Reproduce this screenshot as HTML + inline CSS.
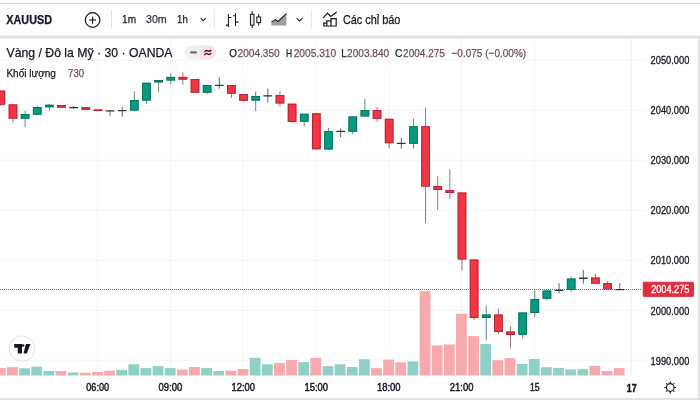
<!DOCTYPE html>
<html><head><meta charset="utf-8"><style>
html,body{margin:0;padding:0;width:700px;height:400px;overflow:hidden;background:#fff;}
svg{display:block;position:absolute;left:0;top:0;will-change:transform;filter:blur(0.3px);}
text{font-family:"Liberation Sans",sans-serif;stroke-width:0.25px;}
.ax text{stroke-width:0.45px;}
.ax2 text{stroke-width:0.3px;}
</style></head><body>
<svg width="700" height="400" viewBox="0 0 700 400">
<rect x="0" y="0" width="700" height="3" fill="#fafafa"/>
<rect x="0" y="2.8" width="700" height="1.3" fill="#d9d9d9"/>
<!-- chart -->
<rect x="0" y="59.7" width="645" height="1" fill="#f3f4f6"/>
<rect x="0" y="109.9" width="645" height="1" fill="#f3f4f6"/>
<rect x="0" y="159.8" width="645" height="1" fill="#f3f4f6"/>
<rect x="0" y="209.9" width="645" height="1" fill="#f3f4f6"/>
<rect x="0" y="260.0" width="645" height="1" fill="#f3f4f6"/>
<rect x="0" y="310.0" width="645" height="1" fill="#f3f4f6"/>
<rect x="0" y="359.7" width="645" height="1" fill="#f3f4f6"/>
<rect x="97.0" y="38" width="1" height="338" fill="#f3f4f6"/>
<rect x="169.9" y="38" width="1" height="338" fill="#f3f4f6"/>
<rect x="242.8" y="38" width="1" height="338" fill="#f3f4f6"/>
<rect x="315.7" y="38" width="1" height="338" fill="#f3f4f6"/>
<rect x="388.3" y="38" width="1" height="338" fill="#f3f4f6"/>
<rect x="461.0" y="38" width="1" height="338" fill="#f3f4f6"/>
<rect x="534.1" y="38" width="1" height="338" fill="#f3f4f6"/>
<rect x="-5.10" y="368.00" width="10.8" height="7.50" fill="#f7a9ae"/>
<rect x="7.04" y="367.20" width="10.8" height="8.30" fill="#f7a9ae"/>
<rect x="19.17" y="368.30" width="10.8" height="7.20" fill="#8fd1c6"/>
<rect x="31.30" y="366.70" width="10.8" height="8.80" fill="#8fd1c6"/>
<rect x="43.44" y="371.00" width="10.8" height="4.50" fill="#8fd1c6"/>
<rect x="55.57" y="371.00" width="10.8" height="4.50" fill="#f7a9ae"/>
<rect x="67.71" y="372.40" width="10.8" height="3.10" fill="#8fd1c6"/>
<rect x="79.84" y="372.70" width="10.8" height="2.80" fill="#f7a9ae"/>
<rect x="91.98" y="371.90" width="10.8" height="3.60" fill="#f7a9ae"/>
<rect x="104.11" y="370.70" width="10.8" height="4.80" fill="#f7a9ae"/>
<rect x="116.25" y="369.90" width="10.8" height="5.60" fill="#8fd1c6"/>
<rect x="128.38" y="364.20" width="10.8" height="11.30" fill="#8fd1c6"/>
<rect x="140.52" y="368.10" width="10.8" height="7.40" fill="#8fd1c6"/>
<rect x="152.66" y="366.10" width="10.8" height="9.40" fill="#8fd1c6"/>
<rect x="164.79" y="368.10" width="10.8" height="7.40" fill="#8fd1c6"/>
<rect x="176.93" y="369.60" width="10.8" height="5.90" fill="#f7a9ae"/>
<rect x="189.06" y="367.00" width="10.8" height="8.50" fill="#f7a9ae"/>
<rect x="201.19" y="368.10" width="10.8" height="7.40" fill="#8fd1c6"/>
<rect x="213.33" y="371.00" width="10.8" height="4.50" fill="#8fd1c6"/>
<rect x="225.47" y="370.70" width="10.8" height="4.80" fill="#f7a9ae"/>
<rect x="237.60" y="369.00" width="10.8" height="6.50" fill="#f7a9ae"/>
<rect x="249.74" y="357.80" width="10.8" height="17.70" fill="#8fd1c6"/>
<rect x="261.87" y="364.20" width="10.8" height="11.30" fill="#8fd1c6"/>
<rect x="274.01" y="363.00" width="10.8" height="12.50" fill="#f7a9ae"/>
<rect x="286.14" y="360.10" width="10.8" height="15.40" fill="#f7a9ae"/>
<rect x="298.28" y="362.10" width="10.8" height="13.40" fill="#8fd1c6"/>
<rect x="310.41" y="357.80" width="10.8" height="17.70" fill="#f7a9ae"/>
<rect x="322.55" y="366.10" width="10.8" height="9.40" fill="#8fd1c6"/>
<rect x="334.68" y="364.20" width="10.8" height="11.30" fill="#8fd1c6"/>
<rect x="346.82" y="367.00" width="10.8" height="8.50" fill="#8fd1c6"/>
<rect x="358.95" y="359.30" width="10.8" height="16.20" fill="#8fd1c6"/>
<rect x="371.09" y="368.10" width="10.8" height="7.40" fill="#f7a9ae"/>
<rect x="383.22" y="359.60" width="10.8" height="15.90" fill="#f7a9ae"/>
<rect x="395.36" y="362.30" width="10.8" height="13.20" fill="#f7a9ae"/>
<rect x="407.49" y="361.40" width="10.8" height="14.10" fill="#8fd1c6"/>
<rect x="419.62" y="291.25" width="10.8" height="84.25" fill="#f7a9ae"/>
<rect x="431.76" y="345.50" width="10.8" height="30.00" fill="#f7a9ae"/>
<rect x="443.90" y="344.50" width="10.8" height="31.00" fill="#f7a9ae"/>
<rect x="456.03" y="313.75" width="10.8" height="61.75" fill="#f7a9ae"/>
<rect x="468.17" y="336.10" width="10.8" height="39.40" fill="#f7a9ae"/>
<rect x="480.30" y="344.00" width="10.8" height="31.50" fill="#8fd1c6"/>
<rect x="492.44" y="360.25" width="10.8" height="15.25" fill="#f7a9ae"/>
<rect x="504.57" y="358.10" width="10.8" height="17.40" fill="#f7a9ae"/>
<rect x="516.70" y="364.00" width="10.8" height="11.50" fill="#8fd1c6"/>
<rect x="528.84" y="359.00" width="10.8" height="16.50" fill="#8fd1c6"/>
<rect x="540.98" y="367.20" width="10.8" height="8.30" fill="#8fd1c6"/>
<rect x="553.11" y="367.90" width="10.8" height="7.60" fill="#8fd1c6"/>
<rect x="565.25" y="369.40" width="10.8" height="6.10" fill="#8fd1c6"/>
<rect x="577.38" y="369.20" width="10.8" height="6.30" fill="#8fd1c6"/>
<rect x="589.51" y="365.80" width="10.8" height="9.70" fill="#f7a9ae"/>
<rect x="601.65" y="371.00" width="10.8" height="4.50" fill="#f7a9ae"/>
<rect x="613.78" y="368.10" width="10.8" height="7.40" fill="#f7a9ae"/>
<line x1="0" y1="289.5" x2="642" y2="289.5" stroke="#6f727c" stroke-width="1" stroke-dasharray="1,1"/>
<rect x="0.35" y="90.60" width="1" height="15.40" fill="#9a7479"/>
<rect x="-3.50" y="90.60" width="8.7" height="14.15" fill="#f23645"/>
<rect x="-3.00" y="91.10" width="7.7" height="13.15" fill="none" stroke="#a0202e" stroke-width="1" opacity="0.75"/>
<rect x="12.48" y="104.40" width="1" height="18.10" fill="#9a7479"/>
<rect x="8.63" y="104.40" width="8.7" height="14.20" fill="#f23645"/>
<rect x="9.13" y="104.90" width="7.7" height="13.20" fill="none" stroke="#a0202e" stroke-width="1" opacity="0.75"/>
<rect x="24.62" y="110.60" width="1" height="16.30" fill="#6a8480"/>
<rect x="20.77" y="114.00" width="8.7" height="4.75" fill="#089981"/>
<rect x="21.27" y="114.50" width="7.7" height="3.75" fill="none" stroke="#086554" stroke-width="1" opacity="0.75"/>
<rect x="36.76" y="105.60" width="1" height="9.15" fill="#6a8480"/>
<rect x="32.91" y="107.00" width="8.7" height="7.75" fill="#089981"/>
<rect x="33.41" y="107.50" width="7.7" height="6.75" fill="none" stroke="#086554" stroke-width="1" opacity="0.75"/>
<rect x="48.89" y="103.75" width="1" height="6.85" fill="#6a8480"/>
<rect x="45.04" y="104.75" width="8.7" height="2.50" fill="#089981"/>
<rect x="45.54" y="105.25" width="7.7" height="1.50" fill="none" stroke="#086554" stroke-width="1" opacity="0.75"/>
<rect x="61.02" y="105.00" width="1" height="2.75" fill="#9a7479"/>
<rect x="57.17" y="105.00" width="8.7" height="2.75" fill="#f23645"/>
<rect x="57.67" y="105.50" width="7.7" height="1.75" fill="none" stroke="#a0202e" stroke-width="1" opacity="0.75"/>
<rect x="73.16" y="106.00" width="1" height="2.50" fill="#56686a"/>
<rect x="69.31" y="107.00" width="8.7" height="1.30" fill="#1f3a36"/>
<rect x="85.29" y="107.25" width="1" height="2.50" fill="#9a7479"/>
<rect x="81.44" y="107.25" width="8.7" height="2.50" fill="#f23645"/>
<rect x="81.94" y="107.75" width="7.7" height="1.50" fill="none" stroke="#a0202e" stroke-width="1" opacity="0.75"/>
<rect x="97.43" y="109.50" width="1" height="1.50" fill="#9a7479"/>
<rect x="93.58" y="109.50" width="8.7" height="1.50" fill="#f23645"/>
<rect x="94.08" y="110.00" width="7.7" height="0.50" fill="none" stroke="#a0202e" stroke-width="1" opacity="0.75"/>
<rect x="109.56" y="110.30" width="1" height="5.95" fill="#8a6a70"/>
<rect x="105.72" y="110.30" width="8.7" height="1.20" fill="#3a2a2e"/>
<rect x="121.70" y="106.90" width="1" height="9.60" fill="#56686a"/>
<rect x="117.85" y="110.00" width="8.7" height="1.20" fill="#1f3a36"/>
<rect x="133.83" y="91.25" width="1" height="19.35" fill="#6a8480"/>
<rect x="129.98" y="100.00" width="8.7" height="10.60" fill="#089981"/>
<rect x="130.48" y="100.50" width="7.7" height="9.60" fill="none" stroke="#086554" stroke-width="1" opacity="0.75"/>
<rect x="145.97" y="82.75" width="1" height="21.00" fill="#6a8480"/>
<rect x="142.12" y="82.75" width="8.7" height="17.85" fill="#089981"/>
<rect x="142.62" y="83.25" width="7.7" height="16.85" fill="none" stroke="#086554" stroke-width="1" opacity="0.75"/>
<rect x="158.10" y="80.00" width="1" height="11.90" fill="#6a8480"/>
<rect x="154.25" y="80.00" width="8.7" height="2.50" fill="#089981"/>
<rect x="154.75" y="80.50" width="7.7" height="1.50" fill="none" stroke="#086554" stroke-width="1" opacity="0.75"/>
<rect x="170.24" y="73.10" width="1" height="11.30" fill="#6a8480"/>
<rect x="166.39" y="76.90" width="8.7" height="3.70" fill="#089981"/>
<rect x="166.89" y="77.40" width="7.7" height="2.70" fill="none" stroke="#086554" stroke-width="1" opacity="0.75"/>
<rect x="182.38" y="72.50" width="1" height="12.25" fill="#9a7479"/>
<rect x="178.53" y="76.90" width="8.7" height="2.85" fill="#f23645"/>
<rect x="179.03" y="77.40" width="7.7" height="1.85" fill="none" stroke="#a0202e" stroke-width="1" opacity="0.75"/>
<rect x="194.51" y="79.00" width="1" height="13.75" fill="#9a7479"/>
<rect x="190.66" y="79.00" width="8.7" height="13.75" fill="#f23645"/>
<rect x="191.16" y="79.50" width="7.7" height="12.75" fill="none" stroke="#a0202e" stroke-width="1" opacity="0.75"/>
<rect x="206.64" y="85.00" width="1" height="9.40" fill="#6a8480"/>
<rect x="202.79" y="85.00" width="8.7" height="7.75" fill="#089981"/>
<rect x="203.29" y="85.50" width="7.7" height="6.75" fill="none" stroke="#086554" stroke-width="1" opacity="0.75"/>
<rect x="218.78" y="77.25" width="1" height="11.50" fill="#56686a"/>
<rect x="214.93" y="84.80" width="8.7" height="1.20" fill="#1f3a36"/>
<rect x="230.91" y="85.00" width="1" height="12.75" fill="#9a7479"/>
<rect x="227.06" y="85.00" width="8.7" height="8.75" fill="#f23645"/>
<rect x="227.56" y="85.50" width="7.7" height="7.75" fill="none" stroke="#a0202e" stroke-width="1" opacity="0.75"/>
<rect x="243.05" y="94.00" width="1" height="7.70" fill="#9a7479"/>
<rect x="239.20" y="94.00" width="8.7" height="6.80" fill="#f23645"/>
<rect x="239.70" y="94.50" width="7.7" height="5.80" fill="none" stroke="#a0202e" stroke-width="1" opacity="0.75"/>
<rect x="255.19" y="91.50" width="1" height="19.75" fill="#6a8480"/>
<rect x="251.34" y="96.00" width="8.7" height="4.60" fill="#089981"/>
<rect x="251.84" y="96.50" width="7.7" height="3.60" fill="none" stroke="#086554" stroke-width="1" opacity="0.75"/>
<rect x="267.32" y="88.50" width="1" height="14.00" fill="#56686a"/>
<rect x="263.47" y="95.20" width="8.7" height="1.30" fill="#1f3a36"/>
<rect x="279.46" y="91.50" width="1" height="15.00" fill="#9a7479"/>
<rect x="275.61" y="95.00" width="8.7" height="8.50" fill="#f23645"/>
<rect x="276.11" y="95.50" width="7.7" height="7.50" fill="none" stroke="#a0202e" stroke-width="1" opacity="0.75"/>
<rect x="291.59" y="103.70" width="1" height="19.00" fill="#9a7479"/>
<rect x="287.74" y="103.70" width="8.7" height="18.30" fill="#f23645"/>
<rect x="288.24" y="104.20" width="7.7" height="17.30" fill="none" stroke="#a0202e" stroke-width="1" opacity="0.75"/>
<rect x="303.73" y="113.75" width="1" height="12.75" fill="#6a8480"/>
<rect x="299.88" y="113.75" width="8.7" height="7.95" fill="#089981"/>
<rect x="300.38" y="114.25" width="7.7" height="6.95" fill="none" stroke="#086554" stroke-width="1" opacity="0.75"/>
<rect x="315.86" y="113.30" width="1" height="36.00" fill="#9a7479"/>
<rect x="312.01" y="113.30" width="8.7" height="36.00" fill="#f23645"/>
<rect x="312.51" y="113.80" width="7.7" height="35.00" fill="none" stroke="#a0202e" stroke-width="1" opacity="0.75"/>
<rect x="328.00" y="127.80" width="1" height="21.70" fill="#6a8480"/>
<rect x="324.14" y="131.00" width="8.7" height="18.50" fill="#089981"/>
<rect x="324.64" y="131.50" width="7.7" height="17.50" fill="none" stroke="#086554" stroke-width="1" opacity="0.75"/>
<rect x="340.13" y="128.30" width="1" height="8.70" fill="#56686a"/>
<rect x="336.28" y="130.80" width="8.7" height="1.20" fill="#1f3a36"/>
<rect x="352.27" y="116.40" width="1" height="17.90" fill="#6a8480"/>
<rect x="348.42" y="116.40" width="8.7" height="15.30" fill="#089981"/>
<rect x="348.92" y="116.90" width="7.7" height="14.30" fill="none" stroke="#086554" stroke-width="1" opacity="0.75"/>
<rect x="364.40" y="99.00" width="1" height="17.50" fill="#6a8480"/>
<rect x="360.55" y="110.00" width="8.7" height="6.50" fill="#089981"/>
<rect x="361.05" y="110.50" width="7.7" height="5.50" fill="none" stroke="#086554" stroke-width="1" opacity="0.75"/>
<rect x="376.54" y="106.80" width="1" height="14.70" fill="#9a7479"/>
<rect x="372.69" y="110.00" width="8.7" height="8.80" fill="#f23645"/>
<rect x="373.19" y="110.50" width="7.7" height="7.80" fill="none" stroke="#a0202e" stroke-width="1" opacity="0.75"/>
<rect x="388.67" y="118.80" width="1" height="29.70" fill="#9a7479"/>
<rect x="384.82" y="118.80" width="8.7" height="24.40" fill="#f23645"/>
<rect x="385.32" y="119.30" width="7.7" height="23.40" fill="none" stroke="#a0202e" stroke-width="1" opacity="0.75"/>
<rect x="400.81" y="137.70" width="1" height="10.80" fill="#56686a"/>
<rect x="396.95" y="142.80" width="8.7" height="1.20" fill="#1f3a36"/>
<rect x="412.94" y="118.70" width="1" height="30.00" fill="#6a8480"/>
<rect x="409.09" y="126.20" width="8.7" height="17.60" fill="#089981"/>
<rect x="409.59" y="126.70" width="7.7" height="16.60" fill="none" stroke="#086554" stroke-width="1" opacity="0.75"/>
<rect x="425.07" y="107.50" width="1" height="115.50" fill="#9a7479"/>
<rect x="421.22" y="126.20" width="8.7" height="60.40" fill="#f23645"/>
<rect x="421.72" y="126.70" width="7.7" height="59.40" fill="none" stroke="#a0202e" stroke-width="1" opacity="0.75"/>
<rect x="437.21" y="176.00" width="1" height="34.00" fill="#9a7479"/>
<rect x="433.36" y="186.00" width="8.7" height="4.00" fill="#f23645"/>
<rect x="433.86" y="186.50" width="7.7" height="3.00" fill="none" stroke="#a0202e" stroke-width="1" opacity="0.75"/>
<rect x="449.35" y="169.00" width="1" height="30.00" fill="#9a7479"/>
<rect x="445.50" y="190.00" width="8.7" height="3.00" fill="#f23645"/>
<rect x="446.00" y="190.50" width="7.7" height="2.00" fill="none" stroke="#a0202e" stroke-width="1" opacity="0.75"/>
<rect x="461.48" y="192.50" width="1" height="78.00" fill="#9a7479"/>
<rect x="457.63" y="192.50" width="8.7" height="67.00" fill="#f23645"/>
<rect x="458.13" y="193.00" width="7.7" height="66.00" fill="none" stroke="#a0202e" stroke-width="1" opacity="0.75"/>
<rect x="473.62" y="259.50" width="1" height="60.50" fill="#9a7479"/>
<rect x="469.76" y="259.50" width="8.7" height="58.50" fill="#f23645"/>
<rect x="470.26" y="260.00" width="7.7" height="57.50" fill="none" stroke="#a0202e" stroke-width="1" opacity="0.75"/>
<rect x="485.75" y="305.50" width="1" height="35.00" fill="#6a8480"/>
<rect x="481.90" y="314.50" width="8.7" height="3.50" fill="#089981"/>
<rect x="482.40" y="315.00" width="7.7" height="2.50" fill="none" stroke="#086554" stroke-width="1" opacity="0.75"/>
<rect x="497.88" y="308.75" width="1" height="25.75" fill="#9a7479"/>
<rect x="494.03" y="314.50" width="8.7" height="17.50" fill="#f23645"/>
<rect x="494.53" y="315.00" width="7.7" height="16.50" fill="none" stroke="#a0202e" stroke-width="1" opacity="0.75"/>
<rect x="510.02" y="326.30" width="1" height="21.90" fill="#9a7479"/>
<rect x="506.17" y="331.50" width="8.7" height="3.50" fill="#f23645"/>
<rect x="506.67" y="332.00" width="7.7" height="2.50" fill="none" stroke="#a0202e" stroke-width="1" opacity="0.75"/>
<rect x="522.15" y="312.50" width="1" height="25.90" fill="#6a8480"/>
<rect x="518.30" y="312.50" width="8.7" height="22.30" fill="#089981"/>
<rect x="518.80" y="313.00" width="7.7" height="21.30" fill="none" stroke="#086554" stroke-width="1" opacity="0.75"/>
<rect x="534.29" y="289.30" width="1" height="27.45" fill="#6a8480"/>
<rect x="530.44" y="299.00" width="8.7" height="14.00" fill="#089981"/>
<rect x="530.94" y="299.50" width="7.7" height="13.00" fill="none" stroke="#086554" stroke-width="1" opacity="0.75"/>
<rect x="546.43" y="290.50" width="1" height="9.75" fill="#6a8480"/>
<rect x="542.58" y="290.50" width="8.7" height="8.25" fill="#089981"/>
<rect x="543.08" y="291.00" width="7.7" height="7.25" fill="none" stroke="#086554" stroke-width="1" opacity="0.75"/>
<rect x="558.56" y="283.10" width="1" height="10.40" fill="#56686a"/>
<rect x="554.71" y="289.70" width="8.7" height="1.30" fill="#1f3a36"/>
<rect x="570.70" y="276.25" width="1" height="15.65" fill="#6a8480"/>
<rect x="566.85" y="278.50" width="8.7" height="11.50" fill="#089981"/>
<rect x="567.35" y="279.00" width="7.7" height="10.50" fill="none" stroke="#086554" stroke-width="1" opacity="0.75"/>
<rect x="582.83" y="270.00" width="1" height="13.75" fill="#56686a"/>
<rect x="578.98" y="277.50" width="8.7" height="1.50" fill="#1f3a36"/>
<rect x="594.97" y="273.75" width="1" height="10.00" fill="#9a7479"/>
<rect x="591.12" y="277.50" width="8.7" height="6.25" fill="#f23645"/>
<rect x="591.62" y="278.00" width="7.7" height="5.25" fill="none" stroke="#a0202e" stroke-width="1" opacity="0.75"/>
<rect x="607.10" y="281.25" width="1" height="8.15" fill="#9a7479"/>
<rect x="603.25" y="283.10" width="8.7" height="6.30" fill="#f23645"/>
<rect x="603.75" y="283.60" width="7.7" height="5.30" fill="none" stroke="#a0202e" stroke-width="1" opacity="0.75"/>
<rect x="619.24" y="283.10" width="1" height="7.10" fill="#8a6a70"/>
<rect x="615.38" y="289.00" width="8.7" height="1.20" fill="#3a2a2e"/>
<!-- toolbar -->
<text x="6.3" y="24" font-size="12" font-weight="bold" fill="#131722" stroke="#131722" textLength="45.7" lengthAdjust="spacingAndGlyphs">XAUUSD</text>
<circle cx="92.6" cy="20" r="7.3" fill="none" stroke="#131722" stroke-width="1.2"/>
<rect x="89.1" y="19.45" width="7" height="1.1" fill="#131722"/>
<rect x="92.05" y="16.8" width="1.1" height="7" fill="#131722"/>
<rect x="111" y="10" width="1" height="18" fill="#e4e4e4"/>
<text x="122.1" y="23.4" font-size="11.5" fill="#131722" stroke="#131722" textLength="14" lengthAdjust="spacingAndGlyphs">1m</text>
<text x="146.1" y="23.4" font-size="11.5" fill="#2e323d" stroke="#2e323d" textLength="20.6" lengthAdjust="spacingAndGlyphs">30m</text>
<text x="177.1" y="23.4" font-size="11.5" fill="#131722" stroke="#131722" textLength="10.8" lengthAdjust="spacingAndGlyphs">1h</text>
<path d="M200.8 18.2 L203.2 20.8 L205.6 18.2" fill="none" stroke="#131722" stroke-width="1.05"/>
<rect x="213.8" y="10" width="1" height="18" fill="#e4e4e4"/>
<!-- bars icon -->
<g fill="none" stroke="#131722" stroke-width="1.05">
<path d="M228.4 14 V27 M226 25.1 H228.4 M228.4 17.4 H231.4"/>
<path d="M235.5 13 V26 M233.1 15.7 H235.5 M235.5 22.1 H238.3"/>
</g>
<!-- candles icon -->
<g fill="none" stroke="#131722" stroke-width="1.0">
<path d="M252.2 11.2 V14.3 M252.2 25.1 V28"/>
<rect x="250.4" y="14.3" width="3.6" height="10.8" fill="#e6e6e6"/>
<path d="M258.7 14 V17 M258.7 22.6 V25.6"/>
<rect x="256.8" y="17" width="3.8" height="5.6" fill="#f0f0f0"/>
</g>
<!-- area icon -->
<path d="M271.4 25.6 L271.4 22.1 L275.3 19.6 L277.9 21.5 L286.4 13.6 L286.4 25.6 Z" fill="#9c9c9c"/>
<path d="M271.4 22.1 L275.3 19.6 L277.9 21.5 L286.4 13.6" fill="none" stroke="#131722" stroke-width="1.05"/>
<path d="M296.6 18 L299.6 21 L302.6 18" fill="none" stroke="#131722" stroke-width="1.05"/>
<rect x="310.8" y="10" width="1" height="18" fill="#e4e4e4"/>
<!-- indicators icon -->
<path d="M323.2 17.8 L327.4 13.2 L330.8 16.4 L336.7 12.1" fill="none" stroke="#131722" stroke-width="1.2"/>
<path d="M323.8 26 V23.2 H326.8 V20.8 H331 V18.6 H336.2 V26 Z M326.8 26 V23.2 M331 26 V20.8" fill="none" stroke="#131722" stroke-width="1.2"/>
<text x="342.9" y="23.6" font-size="12" fill="#131722" stroke="#131722" textLength="57.5" lengthAdjust="spacingAndGlyphs">Các chỉ báo</text>
<rect x="0" y="35.4" width="700" height="3.2" fill="#e8e8e8"/>
<rect x="0" y="36.3" width="700" height="1.3" fill="#dddddd"/>
<!-- legend -->
<text x="6.5" y="57.2" font-size="13" fill="#131722" stroke="#131722" textLength="166" lengthAdjust="spacingAndGlyphs">Vàng / Đô la Mỹ · 30 · OANDA</text>
<rect x="184.6" y="45.4" width="31.2" height="13.8" rx="6.9" fill="#f0f0f0"/>
<path d="M200 45.4 H209.1 A6.9 6.9 0 0 1 209.1 59.2 H200 Z" fill="#fcdfeb"/>
<rect x="190" y="51.3" width="7" height="2.3" rx="1.1" fill="#6e6e6e"/>
<path d="M204.8 51.6 C205.7 50.2 206.7 50.2 207.8 50.9 C208.9 51.6 209.9 51.6 210.9 50.3 M204.8 54.7 C205.7 53.3 206.7 53.3 207.8 54 C208.9 54.7 209.9 54.7 210.9 53.4" fill="none" stroke="#4a1a30" stroke-width="1.4" stroke-linecap="round"/>
<g font-size="11.5">
<text x="229.3" y="57.2" fill="#131722" stroke="#131722" textLength="7.7" lengthAdjust="spacingAndGlyphs">O</text>
<text x="237.6" y="57.2" fill="#6d4d55" stroke="#6d4d55" textLength="42" lengthAdjust="spacingAndGlyphs">2004.350</text>
<text x="286" y="57.2" fill="#131722" stroke="#131722" textLength="6.1" lengthAdjust="spacingAndGlyphs">H</text>
<text x="293.7" y="57.2" fill="#6d4d55" stroke="#6d4d55" textLength="42.5" lengthAdjust="spacingAndGlyphs">2005.310</text>
<text x="341.2" y="57.2" fill="#131722" stroke="#131722" textLength="5.5" lengthAdjust="spacingAndGlyphs">L</text>
<text x="347.1" y="57.2" fill="#6d4d55" stroke="#6d4d55" textLength="42" lengthAdjust="spacingAndGlyphs">2003.840</text>
<text x="394.9" y="57.2" fill="#131722" stroke="#131722" textLength="7.4" lengthAdjust="spacingAndGlyphs">C</text>
<text x="403.1" y="57.2" fill="#6d4d55" stroke="#6d4d55" textLength="41.8" lengthAdjust="spacingAndGlyphs">2004.275</text>
<text x="451.5" y="57.2" fill="#6d4d55" stroke="#6d4d55" textLength="74.7" lengthAdjust="spacingAndGlyphs">−0.075 (−0.00%)</text>
</g>
<text x="6.4" y="76.8" font-size="11.6" fill="#131722" stroke="#131722" textLength="49.5" lengthAdjust="spacingAndGlyphs">Khối lượng</text>
<text x="68.1" y="76.8" font-size="11.6" fill="#6d4d55" stroke="#6d4d55" textLength="16.1" lengthAdjust="spacingAndGlyphs">730</text>
<!-- borders -->
<rect x="630.8" y="38" width="1" height="338.5" fill="#eeeff1"/>
<rect x="698" y="38" width="2" height="362" fill="#e2e2e2"/>
<rect x="0" y="398" width="700" height="2" fill="#e2e2e2"/>
<!-- price axis -->
<g class="ax2" font-size="11" fill="#131722" stroke="#131722">
<text x="650.6" y="64" textLength="38.8" lengthAdjust="spacingAndGlyphs">2050.000</text>
<text x="650.6" y="114.4" textLength="38.8" lengthAdjust="spacingAndGlyphs">2040.000</text>
<text x="650.6" y="164.2" textLength="38.8" lengthAdjust="spacingAndGlyphs">2030.000</text>
<text x="650.6" y="214.3" textLength="38.8" lengthAdjust="spacingAndGlyphs">2020.000</text>
<text x="650.6" y="264.3" textLength="38.8" lengthAdjust="spacingAndGlyphs">2010.000</text>
<text x="650.6" y="315.4" textLength="38.8" lengthAdjust="spacingAndGlyphs">2000.000</text>
<text x="650.6" y="365.2" textLength="38.8" lengthAdjust="spacingAndGlyphs">1990.000</text>
</g>
<rect x="643.2" y="282.2" width="50.4" height="14.4" rx="1" fill="#e42a3c" stroke="#c82434" stroke-width="0.8"/>
<text x="651.2" y="293.2" font-size="11" fill="#ffffff" stroke="#ffffff" style="stroke-width:0.35px" textLength="38.2" lengthAdjust="spacingAndGlyphs">2004.275</text>
<!-- time axis -->
<g class="ax" font-size="10.5" fill="#131722" stroke="#131722">
<text x="86.3" y="391.4" textLength="22.7" lengthAdjust="spacingAndGlyphs">06:00</text>
<text x="158.6" y="391.4" textLength="23.7" lengthAdjust="spacingAndGlyphs">09:00</text>
<text x="231.4" y="391.4" textLength="23.6" lengthAdjust="spacingAndGlyphs">12:00</text>
<text x="304.5" y="391.4" textLength="23.6" lengthAdjust="spacingAndGlyphs">15:00</text>
<text x="377" y="391.4" textLength="23.6" lengthAdjust="spacingAndGlyphs">18:00</text>
<text x="449.8" y="391.4" textLength="23.6" lengthAdjust="spacingAndGlyphs">21:00</text>
<text x="530" y="391.4" textLength="9.6" lengthAdjust="spacingAndGlyphs">15</text>
<text x="626.7" y="391.5" font-weight="bold" textLength="9.9" lengthAdjust="spacingAndGlyphs">17</text>
</g>
<!-- gear -->
<g fill="none" stroke="#131722" stroke-width="1.2">
<circle cx="670.25" cy="387.5" r="3.8"/>
<path d="M670.25 381.6 V383.2 M670.25 391.8 V393.4 M664.4 387.5 H666 M674.5 387.5 H676.1 M666.1 383.35 L667.2 384.45 M674.4 383.35 L673.3 384.45 M666.1 391.65 L667.2 390.55 M674.4 391.65 L673.3 390.55"/>
</g>
<!-- TV logo -->
<circle cx="22" cy="348.6" r="12.6" fill="#ffffff" stroke="#e6e6e6" stroke-width="1.1"/>
<path d="M14.2 344.1 H22 V353.5 H17.8 V347.7 H14.2 Z" fill="#131722"/>
<circle cx="23.1" cy="345.5" r="1.35" fill="#131722"/>
<path d="M25.9 344.1 H30.4 L26.8 353.5 H23.5 Z" fill="#131722"/>
</svg>
</body></html>
